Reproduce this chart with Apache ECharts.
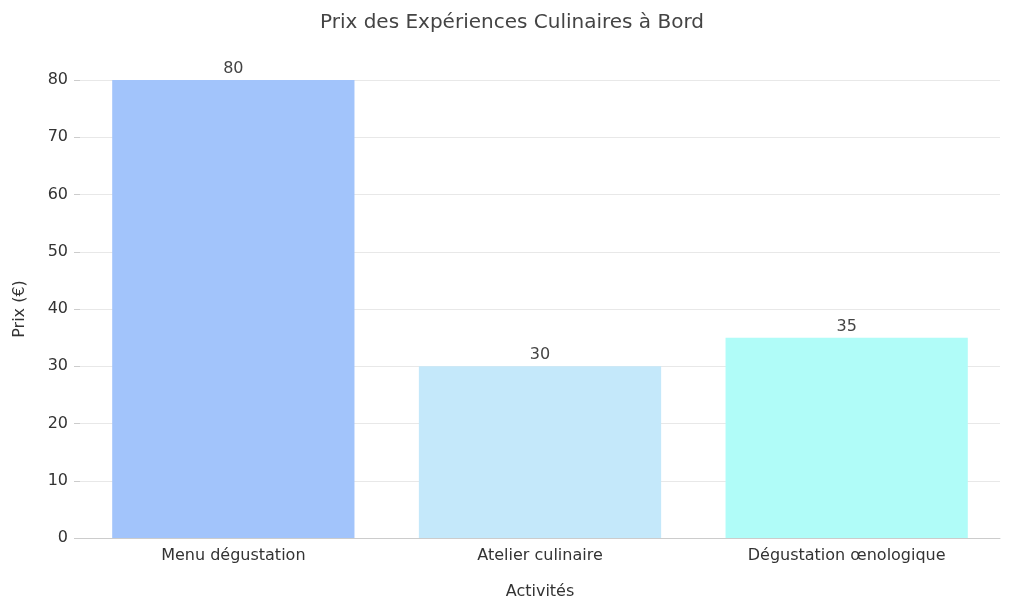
<!DOCTYPE html>
<html><head><meta charset="utf-8">
<script src="https://cdn.jsdelivr.net/npm/echarts@6/dist/echarts.min.js"></script>
<style>html,body{margin:0;padding:0;background:#fff}#c{width:1024px;height:610px}</style>
</head><body><div id="c"></div>
<script>
const categories = ["Menu dégustation", "Atelier culinaire", "Dégustation œnologique"];
const prices = [80, 30, 35];
const colors = ["#a2c4fb", "#c4e8fa", "#b0fcf8"];
const yTicks = [0, 10, 20, 30, 40, 50, 60, 70, 80];
const chart = echarts.init(document.getElementById('c'));
const font = "DejaVu Sans";
chart.setOption({
  animation: false,
  textStyle: {fontFamily: font},
  title: {text: "Prix des Expériences Culinaires à Bord", left: 'center', top: 8,
    textStyle: {fontFamily: font, fontSize: 20, fontWeight: 'normal', color: '#444'}},
  grid: {left: 80, right: 24, top: 80, bottom: 72},
  xAxis: {type: 'category', data: categories,
    name: "Activités", nameLocation: 'middle', nameGap: 46,
    nameTextStyle: {fontSize: 16, color: '#333', fontFamily: font},
    axisLine: {lineStyle: {color: '#ccc'}},
    axisTick: {alignWithLabel: true, lineStyle: {color: '#ccc'}},
    axisLabel: {fontSize: 16, color: '#333', margin: 10}},
  yAxis: {type: 'value', min: yTicks[0], max: yTicks[yTicks.length-1], interval: 10,
    name: "Prix (€)", nameLocation: 'middle', nameGap: 52,
    nameTextStyle: {fontSize: 16, color: '#333', fontFamily: font},
    axisLine: {show: false},
    axisTick: {show: true, length: 6, lineStyle: {color: '#ccc'}},
    splitLine: {lineStyle: {color: '#e8e8e8'}},
    axisLabel: {fontSize: 16, color: '#333', margin: 12}},
  series: [{type: 'bar', barWidth: '79%',
    data: prices.map((v, i) => ({value: v, itemStyle: {color: colors[i]}})),
    label: {show: true, position: 'top', fontSize: 16, color: '#444', distance: 3}}]
});
</script></body></html>
